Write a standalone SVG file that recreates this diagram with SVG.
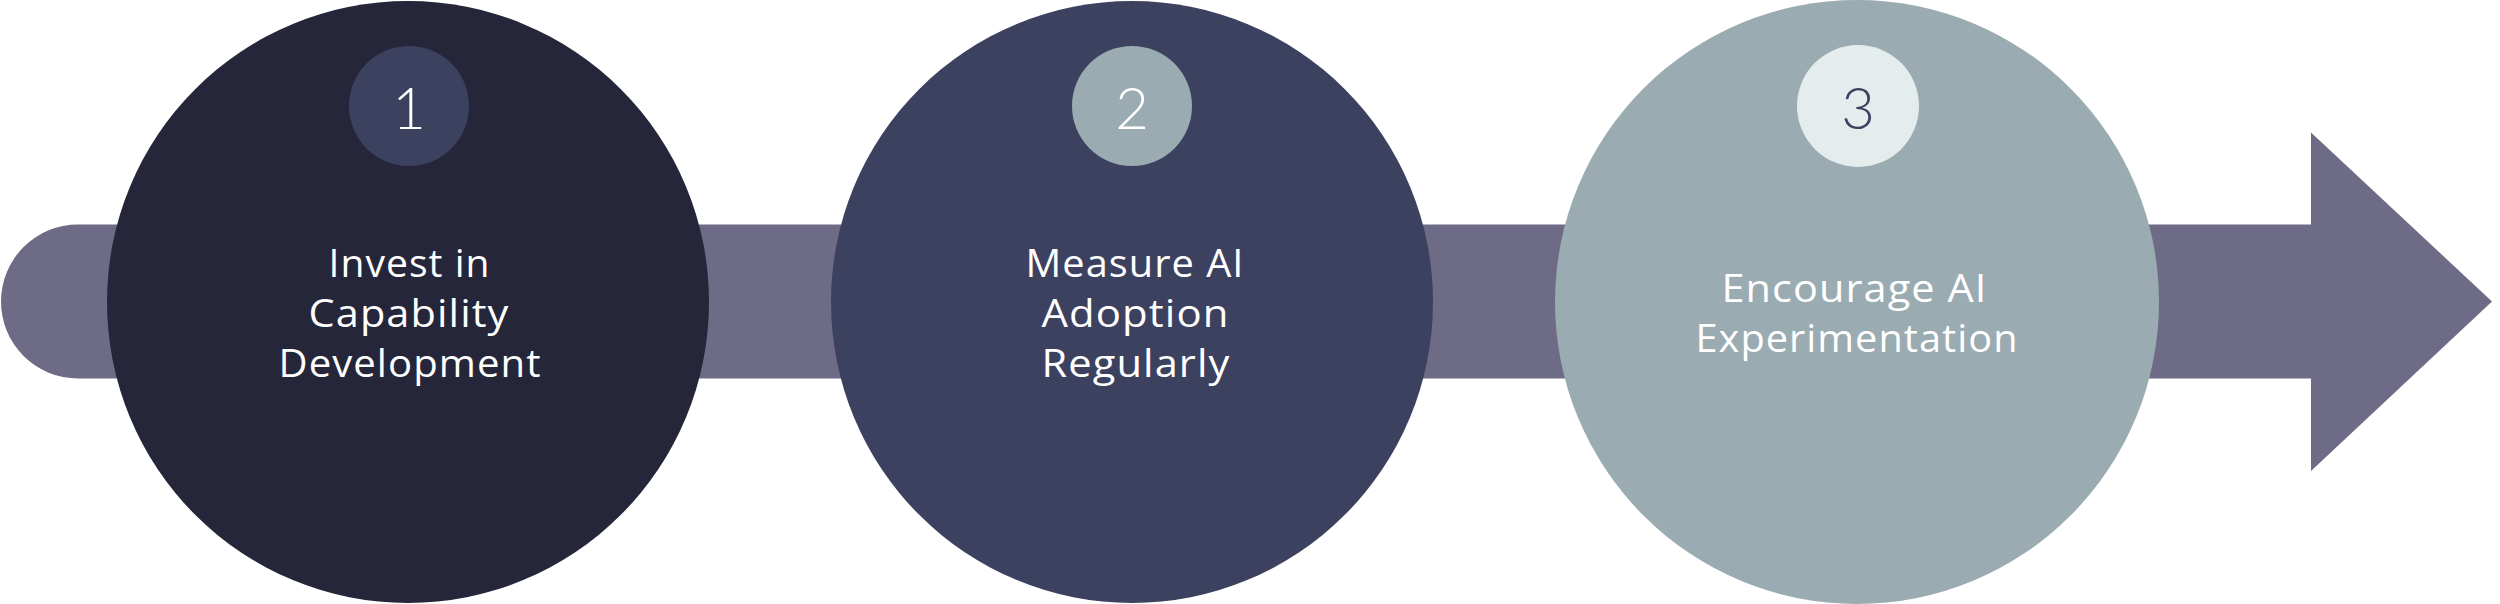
<svg xmlns="http://www.w3.org/2000/svg" width="2500" height="604" viewBox="0 0 2500 604">
<style>
.lbl{font-family:"Open Sans",Lato,sans-serif;font-size:38px;fill:#ffffff;text-anchor:middle;letter-spacing:1px}
.num{font-family:Lato,"Open Sans",sans-serif;font-weight:300;font-size:58px;text-anchor:middle}
</style>
<rect width="2500" height="604" fill="#ffffff"/>
<g id="connectors">
<path d="M78,224.5 L2311,224.5 L2311,132.5 L2492,301.5 L2311,471 L2311,378.5 L78,378.5 A77,77 0 0 1 78,224.5 Z" fill="#6e6b86"/>
</g>
<g id="node1">
<circle cx="408" cy="302" r="301" fill="#252639"/>
<circle cx="409" cy="106" r="60" fill="#3d4160"/>
<text class="num" x="409" y="129" fill="#ffffff">1</text>
<text class="lbl" x="409.5" y="277" textLength="162" lengthAdjust="spacingAndGlyphs">Invest in</text>
<text class="lbl" x="409" y="327" textLength="201" lengthAdjust="spacingAndGlyphs">Capability</text>
<text class="lbl" x="410" y="377" textLength="263" lengthAdjust="spacingAndGlyphs">Development</text>
</g>
<g id="node2">
<circle cx="1132" cy="302" r="301" fill="#3d4160"/>
<circle cx="1132" cy="106" r="60" fill="#9aabb1"/>
<text class="num" x="1132" y="129" fill="#ffffff">2</text>
<text class="lbl" x="1135" y="277" textLength="219" lengthAdjust="spacingAndGlyphs">Measure AI</text>
<text class="lbl" x="1135.5" y="327" textLength="188" lengthAdjust="spacingAndGlyphs">Adoption</text>
<text class="lbl" x="1136" y="377" textLength="189" lengthAdjust="spacingAndGlyphs">Regularly</text>
</g>
<g id="node3">
<circle cx="1857" cy="302" r="302" fill="#9aabb1"/>
<circle cx="1858" cy="106" r="61" fill="#e4ecee"/>
<text class="num" x="1858" y="129" fill="#3d4160">3</text>
<text class="lbl" x="1854.5" y="302" textLength="266" lengthAdjust="spacingAndGlyphs">Encourage AI</text>
<text class="lbl" x="1857" y="352" textLength="323" lengthAdjust="spacingAndGlyphs">Experimentation</text>
</g>
</svg>
